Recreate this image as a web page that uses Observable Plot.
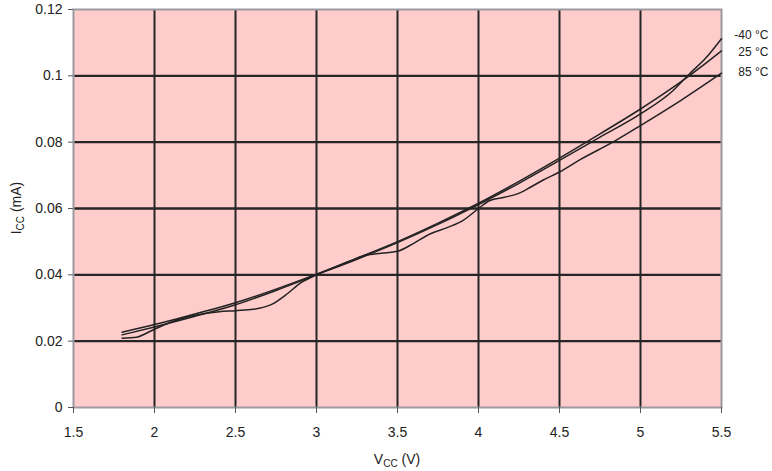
<!DOCTYPE html>
<html><head><meta charset="utf-8">
<script src="https://cdn.jsdelivr.net/npm/d3@7"></script>
<script src="https://cdn.jsdelivr.net/npm/@observablehq/plot@0.6"></script>
<style>body{margin:0;background:#fff;} #chart svg{display:block;}</style>
</head><body><div id="chart"></div>
<script>
// Supply voltage (V) sample points for -40 °C and 25 °C curves
const vcc = [1.8, 2.0, 2.25, 2.5, 2.75, 3.0, 3.25, 3.5, 3.75, 4.0, 4.25, 4.5, 4.75, 5.0, 5.2, 5.3, 5.4, 5.5];
const iccM40 = [0.0219, 0.0243, 0.0275, 0.0310, 0.0353, 0.0400, 0.0447, 0.0497, 0.0552, 0.0612, 0.0676, 0.0745, 0.0815, 0.0885, 0.0955, 0.1005, 0.1052, 0.1112];
const icc25  = [0.0227, 0.0250, 0.0282, 0.0316, 0.0357, 0.0402, 0.0450, 0.0500, 0.0556, 0.0616, 0.0682, 0.0752, 0.0825, 0.0900, 0.0965, 0.1000, 0.1037, 0.1075];
// 85 °C curve (wavier)
const vcc85 = [1.8, 1.89, 1.95, 2.0, 2.1, 2.2, 2.3, 2.4, 2.5, 2.61, 2.72, 2.82, 2.9, 3.0, 3.1, 3.2, 3.3, 3.4, 3.5, 3.6, 3.7, 3.81, 3.91, 4.0, 4.07, 4.16, 4.24, 4.32, 4.4, 4.5, 4.63, 4.84, 5.0, 5.25, 5.5];
const icc85  = [0.0209, 0.0212, 0.0224, 0.0236, 0.0257, 0.0273, 0.0283, 0.0289, 0.0292, 0.0296, 0.0310, 0.0343, 0.0375, 0.0400, 0.0420, 0.0440, 0.0458, 0.0465, 0.0471, 0.0495, 0.0523, 0.0543, 0.0566, 0.0600, 0.0624, 0.0634, 0.0644, 0.0664, 0.0686, 0.0710, 0.0748, 0.0803, 0.0850, 0.0926, 0.1008];
const seriesNames = ["-40 °C", "25 °C", "85 °C"];
const xTicks = [1.5, 2, 2.5, 3, 3.5, 4, 4.5, 5, 5.5];
const yTicks = [0, 0.02, 0.04, 0.06, 0.08, 0.1, 0.12];

const series = [
  {name: seriesNames[0], xs: vcc, ys: iccM40},
  {name: seriesNames[1], xs: vcc, ys: icc25},
  {name: seriesNames[2], xs: vcc85, ys: icc85}
];
const rows = series.flatMap(s => s.xs.map((v, k) => ({v, i: s.ys[k], s: s.name})));
const ends = series.map(s => ({v: s.xs[s.xs.length - 1], i: s.ys[s.ys.length - 1], s: s.name}));
const labelOpts = {x: "v", y: "i", text: "s", textAnchor: "end", dx: 47, fill: "#222", fontSize: 12};

const plot = Plot.plot({
  width: 772, height: 471,
  marginLeft: 73, marginRight: 51, marginTop: 9, marginBottom: 64,
  style: {fontFamily: "'Liberation Sans', Arial, sans-serif", fontSize: "14px", color: "#222", background: "#fff", overflow: "visible"},
  x: {domain: [1.5, 5.5], label: null},
  y: {domain: [0, 0.12], label: null},
  marks: [
    Plot.frame({fill: "#ffcccc"}),
    Plot.gridX(xTicks.slice(1, -1), {stroke: "#262626", strokeOpacity: 1, strokeWidth: 2}),
    Plot.gridY(yTicks.slice(1, -1), {stroke: "#262626", strokeOpacity: 1, strokeWidth: 2.4}),
    Plot.frame({stroke: "#9a9aa0", strokeWidth: 2}),
    Plot.axisX(xTicks, {tickSize: 6, tickPadding: 14, stroke: "#555", tickFormat: d => String(d), fontSize: 14, fill: "#222"}),
    Plot.axisY(yTicks, {tickSize: 5, tickPadding: 6, stroke: "#555", tickFormat: d => String(d), fontSize: 14, fill: "#222"}),
    Plot.line(rows, {x: "v", y: "i", z: "s", stroke: "#222", strokeWidth: 1.5, curve: "monotone-x"}),
    Plot.text([ends[0]], {...labelOpts, dy: -3.5}),
    Plot.text([ends[1]], {...labelOpts, dy: 1}),
    Plot.text([ends[2]], {...labelOpts, dy: -1})
  ]
});
document.getElementById("chart").append(plot);

const svg = d3.select(plot);
const yl = svg.append("text")
  .attr("transform", "translate(21,208) rotate(-90)")
  .attr("text-anchor", "middle")
  .attr("fill", "#222")
  .style("font-size", "14px");
yl.append("tspan").text("I");
yl.append("tspan").attr("dy", 3).style("font-size", "10px").text("CC");
yl.append("tspan").attr("dy", -3).text(" (mA)");

const xl = svg.append("text")
  .attr("x", 397).attr("y", 464)
  .attr("text-anchor", "middle")
  .attr("fill", "#222")
  .style("font-size", "14px");
xl.append("tspan").text("V");
xl.append("tspan").attr("dy", 3).style("font-size", "10px").text("CC");
xl.append("tspan").attr("dy", -3).text(" (V)");
</script>
</body></html>
